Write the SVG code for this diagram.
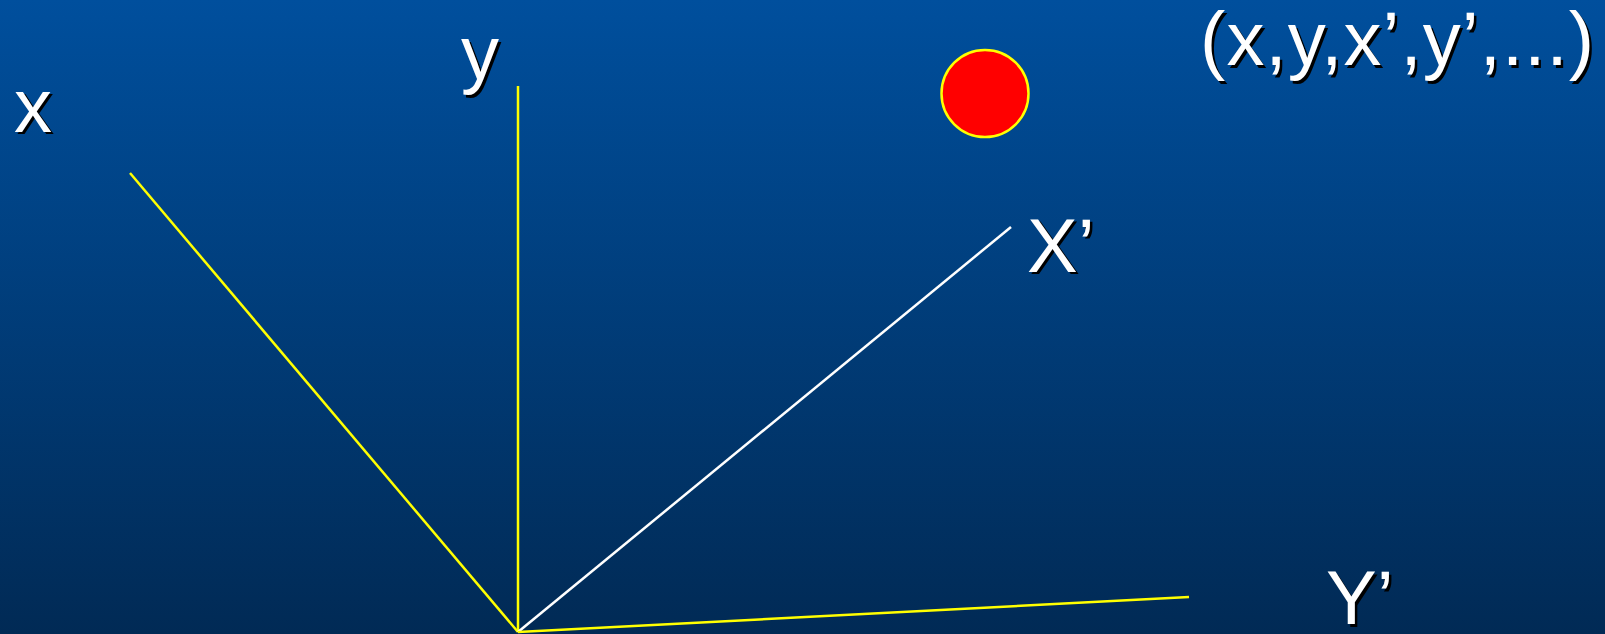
<svg xmlns="http://www.w3.org/2000/svg" width="1605" height="634" viewBox="0 0 1605 634">
<defs>
<linearGradient id="bg" x1="0" y1="0" x2="0" y2="1">
<stop offset="0" stop-color="#004f9d"/>
<stop offset="1" stop-color="#012a55"/>
</linearGradient>
</defs>
<style>
.lbl{font-family:"Liberation Sans",Arial,sans-serif;font-size:76px;fill:#ffffff}
.sh{font-family:"Liberation Sans",Arial,sans-serif;font-size:76px;fill:#000000}
.ax{stroke:#ffff00;stroke-width:2.5;fill:none}
.axw{stroke:#ffffff;stroke-width:2.5;fill:none}
</style>
<rect x="0" y="0" width="1605" height="634" fill="url(#bg)"/>
<g id="connectors">
<line class="ax" x1="130" y1="173" x2="518" y2="632"/>
<line class="ax" x1="518" y1="86" x2="518" y2="632"/>
<line class="axw" x1="1011" y1="227" x2="518" y2="632"/>
<line class="ax" x1="1189" y1="597" x2="518" y2="632"/>
</g>
<g id="label-x">
<text class="sh" x="16.5" y="134">x</text>
<text class="lbl" x="14" y="131.5">x</text>
</g>
<g id="label-y">
<text class="sh" x="463.5" y="81.5">y</text>
<text class="lbl" x="461" y="79">y</text>
</g>
<g id="label-xp">
<text class="sh" x="1029.5" y="274">X’</text>
<text class="lbl" x="1027" y="271.5">X’</text>
</g>
<g id="label-yp">
<text class="sh" x="1328.5" y="626.5">Y’</text>
<text class="lbl" x="1326" y="624">Y’</text>
</g>
<g id="point">
<circle cx="985" cy="93.5" r="43.5" fill="#ff0000" stroke="#ffff00" stroke-width="2.5"/>
</g>
<g id="tuple">
<text class="sh" x="1202.5" y="67.5" textLength="394" lengthAdjust="spacing">(x,y,x’,y’,...)</text>
<text class="lbl" x="1200" y="65" textLength="394" lengthAdjust="spacing">(x,y,x’,y’,...)</text>
</g>
</svg>
